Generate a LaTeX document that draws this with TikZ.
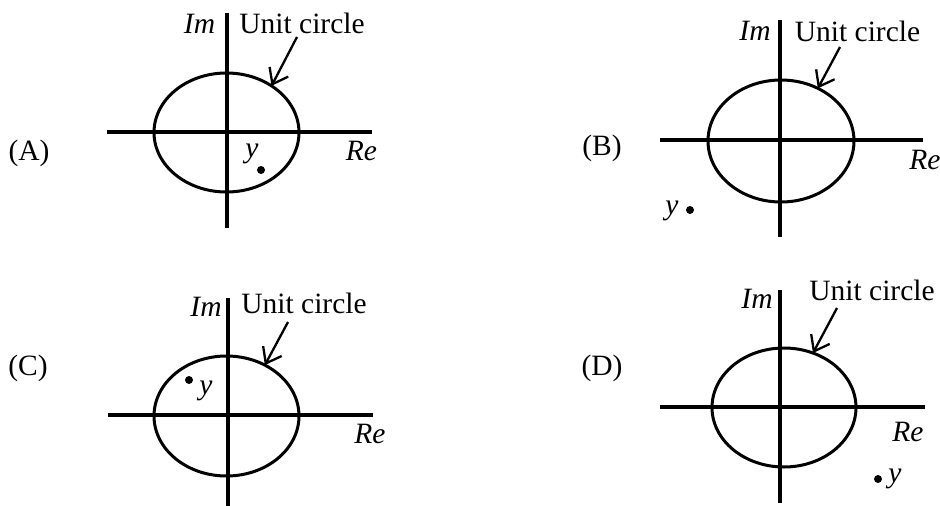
\documentclass[tikz,border=0pt]{standalone}
\usepackage{fontspec}
\setmainfont{Liberation Serif}
\usetikzlibrary{shapes.geometric,arrows.meta}
\begin{document}
\begin{tikzpicture}[x=1pt,y=-1pt,
  every node/.style={font=\fontsize{29.5}{32}\selectfont, inner sep=0pt, outer sep=0pt},
  axis/.style={line width=3.4pt},
  uc/.style={draw, ellipse, line width=3pt, inner sep=0pt},
  lbl/.style={anchor=base},
  ital/.style={font=\fontsize{29.5}{32}\selectfont\itshape},
  ptr/.style={line width=2.3pt, -{Straight Barb[length=14pt,width=21pt,line width=2.3pt]}},
  dotp/.style={circle, fill=black, minimum size=8pt}]
\useasboundingbox (0,0) rectangle (940,506);
% ---------- (A)
\node (labA) at (29,153) {(A)};
\coordinate (A-t) at (227,13); \coordinate (A-b) at (227,228);
\coordinate (A-l) at (107,132); \coordinate (A-r) at (372,132);
\draw[axis] (A-t) -- (A-b); \draw[axis] (A-l) -- (A-r);
\node[uc, minimum width=145pt, minimum height=119pt] (ucA) at (226.5,132.5) {};
\node[ital, lbl] (imA) at (199.5,33) {Im};
\node[lbl] (unA) at (302,33) {Unit circle};
\coordinate (sA) at (297,37);
\draw[ptr] (sA) -- (ucA.46);
\node[ital] (reA) at (361.5,151) {Re};
\node[ital] (yA) at (252,154) {y};
\node[dotp] (pA) at (261,170) {};
% ---------- (B)
\node (labB) at (602,148) {(B)};
\coordinate (B-t) at (780,20); \coordinate (B-b) at (780,237);
\coordinate (B-l) at (660,140); \coordinate (B-r) at (923,140);
\draw[axis] (B-t) -- (B-b); \draw[axis] (B-l) -- (B-r);
\node[uc, minimum width=146pt, minimum height=122pt] (ucB) at (781,141) {};
\node[ital, lbl] (imB) at (755,40) {Im};
\node[lbl] (unB) at (857.5,41) {Unit circle};
\coordinate (sB) at (840,47);
\draw[ptr] (sB) -- (ucB.55);
\node[ital] (reB) at (925,160) {Re};
\node[ital] (yB) at (672,211) {y};
\node[dotp] (pB) at (690,210) {};
% ---------- (C)
\node (labC) at (28,368) {(C)};
\coordinate (C-t) at (228,298); \coordinate (C-b) at (228,506);
\coordinate (C-l) at (108,415); \coordinate (C-r) at (373,415);
\draw[axis] (C-t) -- (C-b); \draw[axis] (C-l) -- (C-r);
\node[uc, minimum width=145pt, minimum height=120pt] (ucC) at (226.5,416) {};
\node[ital, lbl] (imC) at (206,316) {Im};
\node[lbl] (unC) at (304,313) {Unit circle};
\coordinate (sC) at (288,322);
\draw[ptr] (sC) -- (ucC.53);
\node[ital] (reC) at (370,434) {Re};
\node[ital] (yC) at (206,391) {y};
\node[dotp] (pC) at (189,380) {};
% ---------- (D)
\node (labD) at (602,368) {(D)};
\coordinate (D-t) at (780,290); \coordinate (D-b) at (780,503);
\coordinate (D-l) at (660,407); \coordinate (D-r) at (925,407);
\draw[axis] (D-t) -- (D-b); \draw[axis] (D-l) -- (D-r);
\node[uc, minimum width=144pt, minimum height=119pt] (ucD) at (784,407.5) {};
\node[ital, lbl] (imD) at (757,308) {Im};
\node[lbl] (unD) at (872,300) {Unit circle};
\coordinate (sD) at (837,308);
\draw[ptr] (sD) -- (ucD.62);
\node[ital] (reD) at (908,432) {Re};
\node[ital] (yD) at (895,479) {y};
\node[dotp] (pD) at (878,479) {};
\end{tikzpicture}
\end{document}
